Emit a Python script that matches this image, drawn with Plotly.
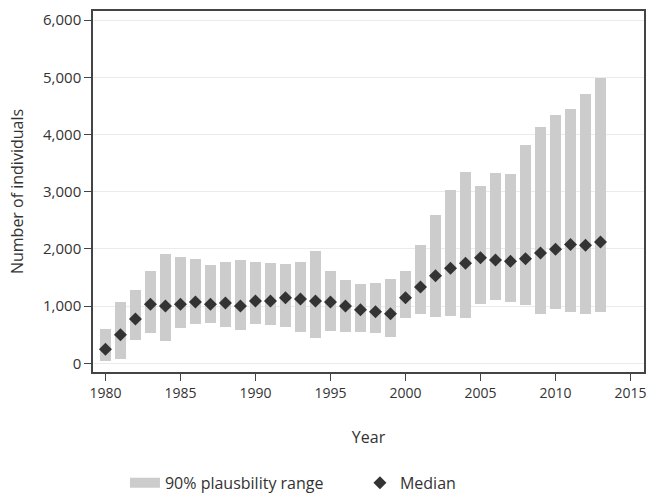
import plotly.graph_objects as go

years = list(range(1980, 2014))
upper = [606, 1066, 1287, 1619, 1910, 1858, 1823, 1712, 1765, 1805,
         1765, 1747, 1730, 1765, 1969, 1619, 1450, 1380, 1398, 1473,
         1619, 2062, 2592, 3034, 3343, 3104, 3326, 3308, 3809, 4135,
         4339, 4438, 4706, 4991]
lower = [41, 76, 408, 524, 390, 612, 687, 705, 629, 588,
         687, 664, 629, 553, 443, 571, 553, 553, 524, 466,
         798, 856, 815, 833, 798, 1037, 1107, 1072, 1019, 868,
         943, 903, 868, 903]
median = [245, 501, 775, 1031, 1002, 1031, 1072, 1031, 1054, 1002,
          1089, 1089, 1147, 1124, 1089, 1072, 1002, 938, 903, 868,
          1147, 1334, 1532, 1660, 1747, 1846, 1805, 1782, 1829, 1928,
          1992, 2079, 2062, 2120]
x_ticks = [1980, 1985, 1990, 1995, 2000, 2005, 2010, 2015]
y_ticks = [0, 1000, 2000, 3000, 4000, 5000, 6000]

FONT = "Open Sans"
TXT = "#333333"
BAR = "#cccccc"
AXIS = "#444444"

fig = go.Figure()
fig.add_trace(go.Bar(
    x=years, base=lower, y=[u - l for u, l in zip(upper, lower)],
    width=0.73, marker=dict(color=BAR, line=dict(width=0)),
    name="90% plausbility range", showlegend=False,
))
# legend entry for the range (wide grey block)
fig.add_trace(go.Scatter(
    x=[None], y=[None], mode="lines", line=dict(color=BAR, width=13),
    name="90% plausbility range",
))
fig.add_trace(go.Scatter(
    x=years, y=median, mode="markers",
    marker=dict(symbol="diamond", size=10, color="#333333"),
    name="Median",
))

fig.update_layout(
    width=646, height=494,
    margin=dict(l=93, r=2, t=11, b=122, autoexpand=False),
    paper_bgcolor="white", plot_bgcolor="white",
    font=dict(family=FONT, color=TXT, size=15),
    showlegend=True,
    legend=dict(orientation="h", x=0.058, xanchor="left", y=-0.307, yanchor="middle",
                font=dict(size=16, color=TXT), itemwidth=30,
                entrywidth=190, entrywidthmode="pixels"),
    bargap=0,
)
fig.update_xaxes(
    range=[1979.17, 2015.9], tickvals=x_ticks, ticks="outside", ticklen=7,
    tickcolor=AXIS, showline=True, linecolor=AXIS, linewidth=1.5, mirror=True,
    showgrid=False, zeroline=False, tickfont=dict(size=14), automargin=False,
    ticklabeloverflow="allow",
    title=dict(text="Year", font=dict(size=16), standoff=31),
)
fig.update_yaxes(
    range=[-152, 6159], tickvals=y_ticks, tickformat=",d", ticks="outside", ticklen=7,
    tickcolor=AXIS, showline=True, linecolor=AXIS, linewidth=1.5, mirror=True,
    showgrid=True, gridcolor="#ebebeb", gridwidth=1, zeroline=False, tickfont=dict(size=15),
    automargin=False,
    title=dict(text="Number of individuals", font=dict(size=16), standoff=15),
)
fig.write_html("out.html", config={"displayModeBar": False},
               post_script="document.body.style.margin='0';document.body.style.overflow='hidden';")
